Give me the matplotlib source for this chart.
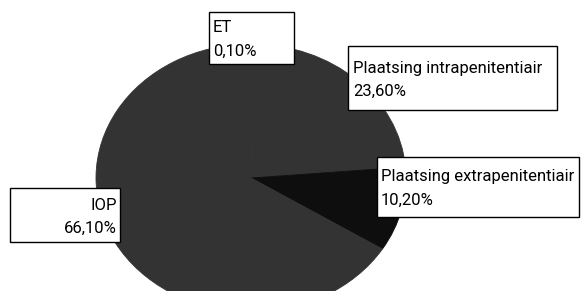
import numpy as np
import matplotlib.pyplot as plt
from matplotlib.patches import Rectangle

plt.rcParams['font.family'] = ['Roboto', 'DejaVu Sans']

# data (Excel order, clockwise from 12 o'clock)
categories = ['ET', 'Plaatsing intrapenitentiair', 'Plaatsing extrapenitentiair', 'IOP']
shares = [0.1, 23.6, 10.2, 66.1]
pct_labels = ['0,10%', '23,60%', '10,20%', '66,10%']
slice_colors = ['#333333', '#333333', '#0e0e0e', '#333333']

W, H = 581, 291
fig = plt.figure(figsize=(W / 100, H / 100), dpi=100)
fig.patch.set_facecolor('white')

# pie is an ellipse: centre (251,178) px, rx 155, ry 134
cx, cy, rx, ry = 251, 178, 155, 134
pie_ax = fig.add_axes([(cx - rx) / W, (H - cy - ry) / H, 2 * rx / W, 2 * ry / H])
wedges, _ = pie_ax.pie(shares, colors=slice_colors, startangle=90, counterclock=False,
                       radius=1)
for w in wedges:
    w.set_edgecolor(w.get_facecolor())
    w.set_linewidth(0.6)
pie_ax.set_aspect('auto')
pie_ax.set_xlim(-1, 1)
pie_ax.set_ylim(-1, 1)
pie_ax.axis('off')

# overlay in pixel coords for the label boxes
ov = fig.add_axes([0, 0, 1, 1])
ov.set_xlim(0, W)
ov.set_ylim(H, 0)
ov.axis('off')

# box: (x0, y0, x1, y1), text anchor x, alignment
boxes = [(209, 12, 294, 64, 213, 'left'),
         (348, 46, 557, 110, 353, 'left'),
         (377, 157, 579, 217, 381, 'left'),
         (10, 188, 120, 242, 117, 'right')]

for i, (x0, y0, x1, y1, tx, ha) in enumerate(boxes):
    ov.add_patch(Rectangle((x0, y0), x1 - x0, y1 - y0, facecolor='white',
                           edgecolor='black', linewidth=1.0))
    ym = (y0 + y1) / 2
    ov.text(tx, ym - 10, categories[i], ha=ha, va='center', fontsize=12, color='black')
    ov.text(tx, ym + 13, pct_labels[i], ha=ha, va='center', fontsize=12, color='black')

fig.savefig('out.png', dpi=100)
